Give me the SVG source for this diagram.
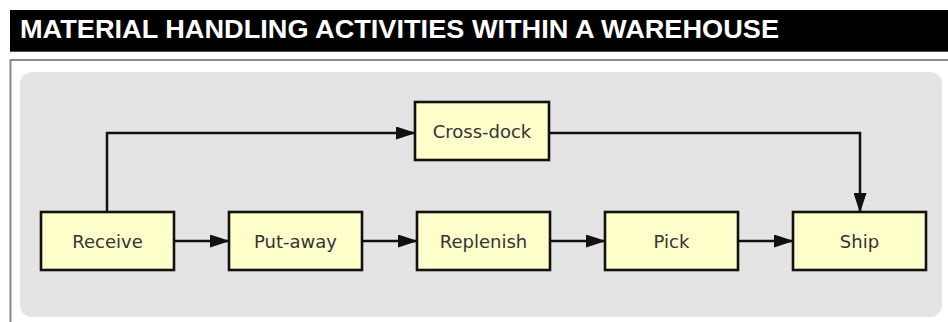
<svg xmlns="http://www.w3.org/2000/svg" width="948" height="322" viewBox="0 0 948 322">
<style>
.node rect{fill:#ffffcc;stroke:#111;stroke-width:2.6}
.node text{font-family:"DejaVu Sans",Verdana,sans-serif;font-size:18px;fill:#333;text-anchor:middle}
.conn{fill:none;stroke:#111;stroke-width:2.5}
</style>
<defs>
<marker id="ah" markerWidth="20" markerHeight="13" refX="19" refY="6.5" orient="auto" markerUnits="userSpaceOnUse">
<path d="M0,0 L20,6.5 L0,13 Z" fill="#111"/>
</marker>
</defs>
<rect x="0" y="0" width="948" height="322" fill="#ffffff"/>
<g id="title">
<rect x="10" y="10" width="940" height="42" fill="#000"/>
<line x1="10" y1="51.5" x2="948" y2="51.5" stroke="#555" stroke-width="1"/>
<text x="20" y="38" font-family="'Liberation Sans',Arial,sans-serif" font-weight="bold" font-size="26" fill="#fff" textLength="759" lengthAdjust="spacingAndGlyphs">MATERIAL HANDLING ACTIVITIES WITHIN A WAREHOUSE</text>
</g>
<g id="frame">
<path d="M10.5,330 L10.5,60 L950,60" fill="none" stroke="#8a8a8a" stroke-width="2"/>
<rect x="20" y="72" width="922" height="245" rx="12" ry="12" fill="#e4e4e4"/>
</g>
<g id="connectors">
<path class="conn" d="M107,212 L107,133 L415,133" marker-end="url(#ah)"/>
<path class="conn" d="M549,133 L860,133 L860,212" marker-end="url(#ah)"/>
<line class="conn" x1="174" y1="241" x2="229" y2="241" marker-end="url(#ah)"/>
<line class="conn" x1="362" y1="241" x2="417" y2="241" marker-end="url(#ah)"/>
<line class="conn" x1="550" y1="241" x2="605" y2="241" marker-end="url(#ah)"/>
<line class="conn" x1="738" y1="241" x2="793" y2="241" marker-end="url(#ah)"/>
</g>
<g id="receive" class="node"><rect x="41" y="212" width="133" height="58"/><text x="107.5" y="247.5">Receive</text></g>
<g id="putaway" class="node"><rect x="229" y="212" width="133" height="58"/><text x="295.5" y="247.5">Put-away</text></g>
<g id="replenish" class="node"><rect x="417" y="212" width="133" height="58"/><text x="483.5" y="247.5">Replenish</text></g>
<g id="pick" class="node"><rect x="605" y="212" width="133" height="58"/><text x="671.5" y="247.5">Pick</text></g>
<g id="ship" class="node"><rect x="793" y="212" width="133" height="58"/><text x="859.5" y="247.5">Ship</text></g>
<g id="crossdock" class="node"><rect x="415" y="102" width="134" height="58"/><text x="482" y="137.5">Cross-dock</text></g>
</svg>
